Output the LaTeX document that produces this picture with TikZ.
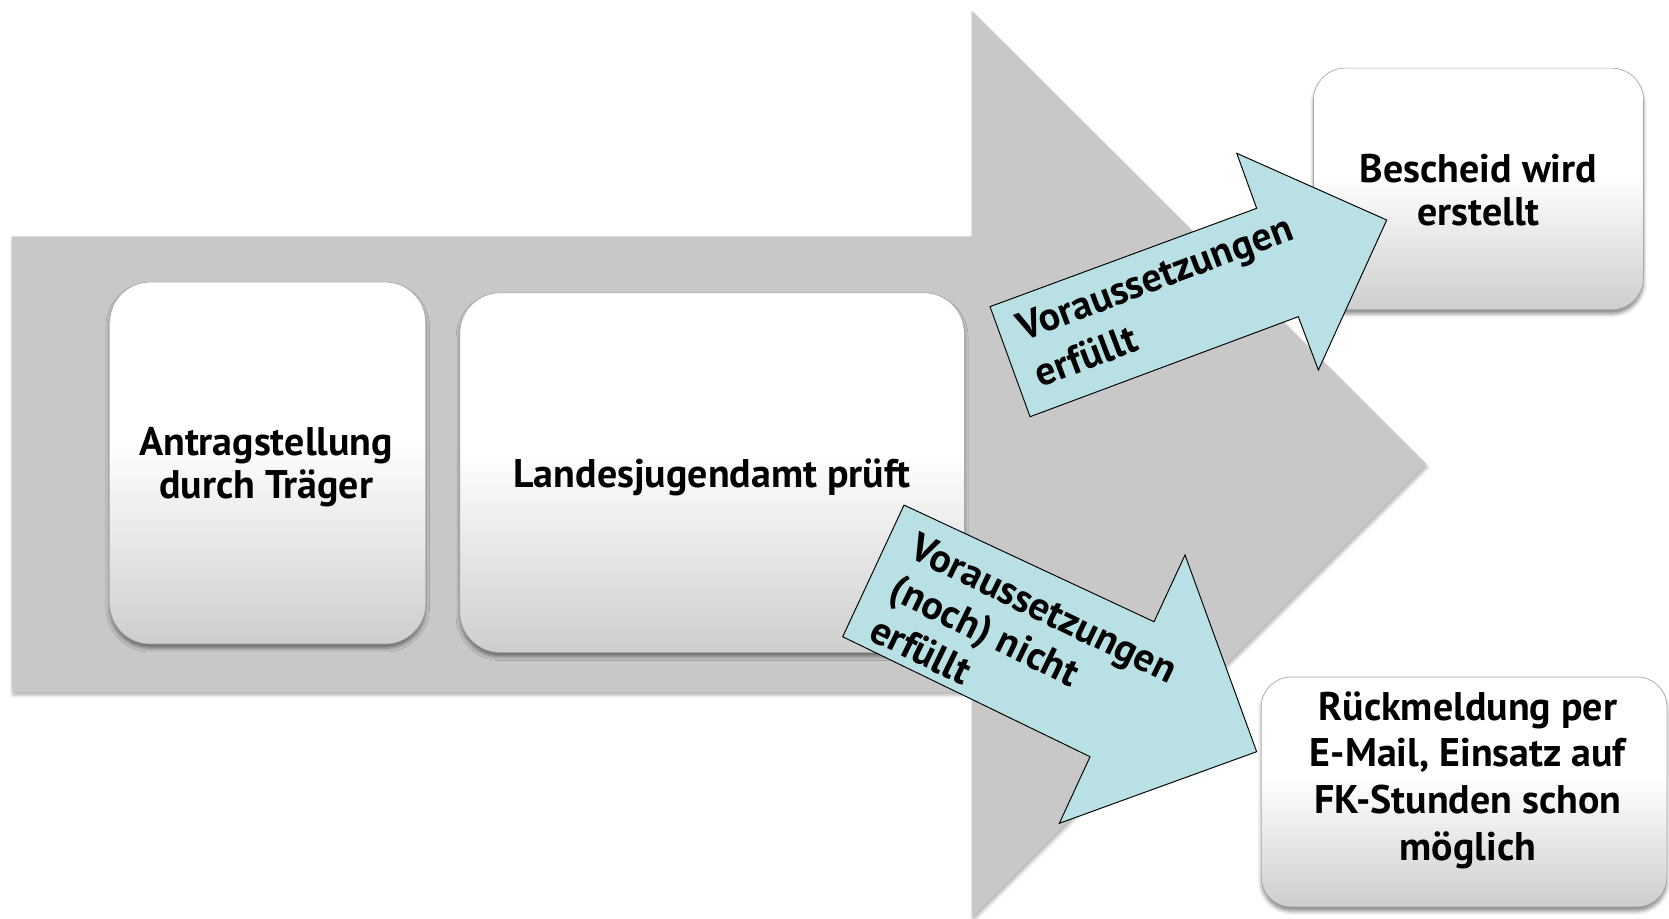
\documentclass[tikz,border=0pt]{standalone}
\usepackage{fontspec}
\setmainfont{PT Sans}
\usetikzlibrary{shadows.blur}
\definecolor{arrowgray}{RGB}{200,200,200}
\definecolor{cardbot}{RGB}{206,206,206}
\definecolor{cardline}{RGB}{165,165,165}
\definecolor{tealfill}{RGB}{185,224,228}
\pgfdeclareverticalshading{cardshade}{100bp}{color(0bp)=(cardbot); color(25bp)=(cardbot); color(53bp)=(white); color(75bp)=(white); color(100bp)=(white)}
\begin{document}
\begin{tikzpicture}[x=1pt,y=-1pt,
  card/.style={draw=cardline, line width=0.6pt, shading=cardshade, inner sep=0pt,
    blur shadow={shadow xshift=0pt, shadow yshift=-4pt, shadow blur radius=3.5pt, shadow opacity=45}},
  lbl/.style={align=center, inner sep=0pt, font=\bfseries\fontsize{37.5}{40}\selectfont},
  albl/.style={align=left, inner sep=0pt, font=\bfseries\fontsize{37.5}{46}\selectfont},
  tealarrow/.style={fill=tealfill, draw=black, line width=0.9pt, line join=miter}
]
\useasboundingbox (0,0) rectangle (1568,863);

% big grey arrow
\fill[arrowgray, blur shadow={shadow xshift=1pt, shadow yshift=-3pt, shadow blur radius=3pt, shadow opacity=30}]
  (11,222) -- (913,222) -- (913,10) -- (1340,436) -- (913,862) -- (913,650) -- (11,650) -- cycle;

% cards
\node[card, rounded corners=38pt, minimum width=297pt, minimum height=340pt] (b1) at (251.5,435) {};
\node[card, rounded corners=38pt, minimum width=474pt, minimum height=338pt] (b2) at (669,444) {};
\node[card, rounded corners=30pt, minimum width=310pt, minimum height=227pt] (b3) at (1389,177.5) {};
\node[card, rounded corners=28pt, minimum width=381pt, minimum height=216pt] (b4) at (1375.5,744) {};

\node[lbl] (t1) at (250,439) {Antragstellung\\durch Träger};
\node[lbl] (t2) at (669,448) {Landesjugendamt prüft};
\node[lbl] (t3) at (1389,178.5) {Bescheid wird\\erstellt};
\node[lbl, font=\bfseries\fontsize{37.5}{44}\selectfont] (t4) at (1379,733) {Rückmeldung per\\E-Mail, Einsatz auf\\FK-Stunden schon\\möglich};

% teal arrows
\coordinate (u1) at (967.7,391.5);
\coordinate (u2) at (930.1,288.1);
\coordinate (u3) at (1180.6,195.7);
\coordinate (u4) at (1161.9,144.0);
\coordinate (u5) at (1302.8,206.7);
\coordinate (u6) at (1238.6,347.6);
\coordinate (u7) at (1219.7,297.5);
\draw[tealarrow] (u1) -- (u2) -- (u3) -- (u4) -- (u5) -- (u6) -- (u7) -- cycle;

\coordinate (d1) at (849.3,474.5);
\coordinate (d2) at (791.7,598.2);
\coordinate (d3) at (1024.1,710.9);
\coordinate (d4) at (995.2,773.5);
\coordinate (d5) at (1180.6,706.2);
\coordinate (d6) at (1113.3,521.4);
\coordinate (d7) at (1084.2,584.1);
\draw[tealarrow] (d1) -- (d2) -- (d3) -- (d4) -- (d5) -- (d6) -- (d7) -- cycle;

\node[albl, rotate=20.7] (a1) at (1093,282) {Voraussetzungen\\erfüllt};
\node[albl, rotate=-26, font=\bfseries\fontsize{37.5}{43}\selectfont] (a2) at (962,610) {Voraussetzungen\\(noch) nicht\\erfüllt};
\end{tikzpicture}
\end{document}
